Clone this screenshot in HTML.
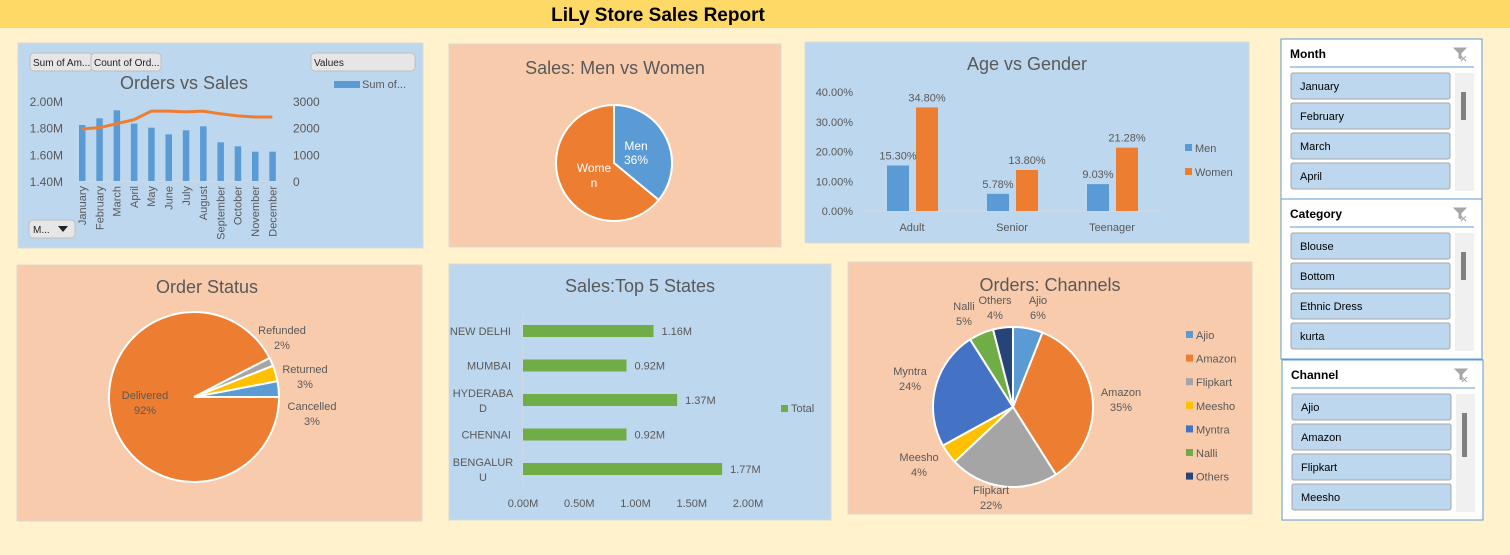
<!DOCTYPE html>
<html><head><meta charset="utf-8">
<style>
body{margin:0;width:1510px;height:550px;overflow:hidden;background:#FFF2CC;font-family:"Liberation Sans",sans-serif;}
svg text{font-family:"Liberation Sans",sans-serif;}
</style></head>
<body>
<svg id="s" width="1510" height="550" xmlns="http://www.w3.org/2000/svg">
<rect x="0" y="0" width="1510" height="550" fill="#FFF2CC"/>
<rect x="0" y="0" width="1510" height="28" fill="#FFD966"/>
<text x="658" y="21" text-anchor="middle" font-size="19" font-weight="bold" fill="#000">LiLy Store Sales Report</text>
<g id="g"></g>
</svg>
<script>
// ---- data ----
const months=["January","February","March","April","May","June","July","August","September","October","November","December"];
const salesM=[1.82,1.87,1.93,1.83,1.80,1.75,1.78,1.81,1.69,1.66,1.62,1.62];
const ordersCount=[1950,2000,2150,2300,2620,2620,2590,2620,2520,2440,2400,2400];
const genderLabels=["Men","Women"];
const genderValues=[36,64];
const ageGroups=["Adult","Senior","Teenager"];
const ageMen=[15.30,5.78,9.03];
const ageWomen=[34.80,13.80,21.28];
const statusLabels=["Cancelled","Returned","Refunded","Delivered"];
const statusValues=[3,3,1.6,92.4];
const statusPrinted=["3%","3%","2%","92%"];
const states=["NEW DELHI","MUMBAI","HYDERABAD","CHENNAI","BENGALURU"];
const stateSales=[1.16,0.92,1.37,0.92,1.77];
const channels=["Ajio","Amazon","Flipkart","Meesho","Myntra","Nalli","Others"];
const channelValues=[6,35,22,4,24,5,4];

const NS="http://www.w3.org/2000/svg";
const G=document.getElementById('g');
function el(tag,a,parent,txt){const e=document.createElementNS(NS,tag);for(const k in a)e.setAttribute(k,a[k]);if(txt!==undefined)e.textContent=txt;(parent||G).appendChild(e);return e;}
const BLUE="#5B9BD5",OR="#ED7D31",GR="#A5A5A5",YE="#FFC000",DB="#4472C4",GN="#70AD47",NV="#264478";
const TXT="#595959";

// panels
[[18,43,405,205,"#BDD7EE","panel-orders-vs-sales"],[449,44,332,203,"#F8CBAD","panel-men-vs-women"],[805,42,444,201,"#BDD7EE","panel-age-vs-gender"],
 [17,265,405,256,"#F8CBAD","panel-order-status"],[449,264,382,256,"#BDD7EE","panel-top-states"],[848,262,404,252,"#F8CBAD","panel-channels"]].forEach(p=>{
 const r=el('rect',{x:p[0],y:p[1],width:p[2],height:p[3],fill:p[4],stroke:"#D9D9D9","stroke-width":1});
 
 
});

function pie(cx,cy,r,vals,cols,start,dir,name){
 const tot=vals.reduce((a,b)=>a+b,0);let a=start;const mids=[];
 vals.forEach((v,i)=>{const da=v/tot*2*Math.PI*dir;const a2=a+da;
  const x1=cx+r*Math.cos(a),y1=cy+r*Math.sin(a),x2=cx+r*Math.cos(a2),y2=cy+r*Math.sin(a2);
  const large=Math.abs(da)>Math.PI?1:0;const sw=dir>0?1:0;
  const p=el('path',{d:`M${cx},${cy}L${x1},${y1}A${r},${r} 0 ${large} ${sw} ${x2},${y2}Z`,fill:cols[i],stroke:"#fff","stroke-width":2});
  
  
  mids.push(a+da/2);a=a2;});
 return mids;
}

// ---- Orders vs Sales ----
(function(){
 [["Sum of Am...",30,53,62],["Count of Ord...",91,53,70],["Values",311,53,104]].forEach((b,i)=>{
  const r=el('rect',{x:b[1],y:b[2],width:b[3],height:18,rx:4,fill:"#E7E6E6",stroke:"#BFBFBF"});
  
  
  const t=el('text',{x:b[1]+3,y:b[2]+13,"font-size":10,fill:"#222"},G,b[0]);
  
  
 });
 const r=el('rect',{x:29,y:220,width:46,height:18,rx:4,fill:"#E7E6E6",stroke:"#BFBFBF"});
 
 el('text',{x:33,y:233,"font-size":10,fill:"#222"},G,"M...");
 el('path',{d:"M58,226h10l-5,6z",fill:"#222"});
 const t=el('text',{x:184,y:89,"text-anchor":"middle","font-size":18,fill:TXT},G,"Orders vs Sales");
 
 el('rect',{x:334,y:81,width:26,height:7,fill:BLUE});
 el('text',{x:362,y:88,"font-size":11,fill:TXT},G,"Sum of...");
 const y0=181,y1=101,lo=1.4,hi=2.0;
 const yL=v=>y0-(v-lo)/(hi-lo)*(y0-y1);
 const yR=v=>y0-v/3000*(y0-y1);
 const xs=i=>82+i*17.3;
 [1.4,1.6,1.8,2.0].forEach(v=>el('text',{x:63,y:yL(v)+5,"text-anchor":"end","font-size":12,fill:TXT},G,v.toFixed(2)+"M"));
 [0,1000,2000,3000].forEach(v=>el('text',{x:293,y:yR(v)+5,"font-size":12,fill:TXT},G,String(v)));
 el('line',{x1:75,x2:283,y1:y0,y2:y0,stroke:"#D9D9D9"});
 salesM.forEach((v,i)=>{const b=el('rect',{x:xs(i)-3,y:yL(v),width:6.5,height:y0-yL(v),fill:BLUE});
  
  const l=el('text',{transform:`translate(${xs(i)+4},${y0+5}) rotate(-90)`,"text-anchor":"end","font-size":11,fill:TXT},G,months[i]);
  });
 const ln=el('polyline',{points:ordersCount.map((v,i)=>xs(i)+","+yR(v)).join(" "),fill:"none",stroke:OR,"stroke-width":3});
 
})();

// ---- Men vs Women ----
(function(){
 const t=el('text',{x:615,y:74,"text-anchor":"middle","font-size":18,fill:TXT},G,"Sales: Men vs Women");
 
 pie(614,163,58,genderValues,[BLUE,OR],-Math.PI/2,1,'gender');
 el('text',{x:636,y:150,"text-anchor":"middle","font-size":12,fill:"#fff"},G,"Men");
 el('text',{x:636,y:164,"text-anchor":"middle","font-size":12,fill:"#fff"},G,genderValues[0]+"%");
 el('text',{x:594,y:172,"text-anchor":"middle","font-size":12,fill:"#fff"},G,"Wome");
 el('text',{x:594,y:187,"text-anchor":"middle","font-size":12,fill:"#fff"},G,"n");
})();

// ---- Age vs Gender ----
(function(){
 const t=el('text',{x:1027,y:70,"text-anchor":"middle","font-size":18,fill:TXT},G,"Age vs Gender");
 
 const y0=211,y1=92;const y=v=>y0-v/40*(y0-y1);
 [0,10,20,30,40].forEach(v=>el('text',{x:853,y:y(v)+4,"text-anchor":"end","font-size":11,fill:TXT},G,v.toFixed(2)+"%"));
 el('line',{x1:862,x2:1160,y1:y0,y2:y0,stroke:"#D9D9D9"});
 ageGroups.forEach((g,i)=>{const cx=912+i*100;
  const m=el('rect',{x:cx-25,y:y(ageMen[i]),width:22,height:y0-y(ageMen[i]),fill:BLUE});
  
  const w=el('rect',{x:cx+4,y:y(ageWomen[i]),width:22,height:y0-y(ageWomen[i]),fill:OR});
  
  el('text',{x:cx-14,y:y(ageMen[i])-6,"text-anchor":"middle","font-size":11,fill:TXT},G,ageMen[i].toFixed(2)+"%");
  el('text',{x:cx+15,y:y(ageWomen[i])-6,"text-anchor":"middle","font-size":11,fill:TXT},G,ageWomen[i].toFixed(2)+"%");
  el('text',{x:cx,y:231,"text-anchor":"middle","font-size":11,fill:TXT},G,g);});
 [[BLUE,"Men",148],[OR,"Women",172]].forEach(l=>{el('rect',{x:1185,y:l[2]-4,width:7,height:7,fill:l[0]});
  el('text',{x:1195,y:l[2]+4,"font-size":11,fill:TXT},G,l[1]);});
})();

// ---- Order Status ----
(function(){
 const t=el('text',{x:207,y:293,"text-anchor":"middle","font-size":18,fill:TXT},G,"Order Status");
 
 pie(194,397,85,statusValues,[BLUE,YE,GR,OR],0,-1,'status');
 const pos=[[312,410],[305,373],[282,334],[145,399]];
 statusLabels.forEach((l,i)=>{el('text',{x:pos[i][0],y:pos[i][1],"text-anchor":"middle","font-size":11,fill:TXT},G,l);
  el('text',{x:pos[i][0],y:pos[i][1]+15,"text-anchor":"middle","font-size":11,fill:TXT},G,statusPrinted[i]);});
})();

// ---- Top 5 States ----
(function(){
 const t=el('text',{x:640,y:292,"text-anchor":"middle","font-size":18,fill:TXT},G,"Sales:Top 5 States");
 
 const x0=523,x1=748;const x=v=>x0+v/2*(x1-x0);
 [0,0.5,1,1.5,2].forEach(v=>el('text',{x:x(v),y:507,"text-anchor":"middle","font-size":11,fill:TXT},G,v.toFixed(2)+"M"));
 el('line',{x1:x0,x2:x0,y1:315,y2:485,stroke:"#D9D9D9"});
 states.forEach((s,i)=>{const cy=331+i*34.5;
  const b=el('rect',{x:x0,y:cy-6,width:x(stateSales[i])-x0,height:12,fill:GN});
  
  el('text',{x:x(stateSales[i])+8,y:cy+4,"font-size":11,fill:TXT},G,stateSales[i].toFixed(2)+"M");
  if(s.length>8 && s.indexOf(' ')<0){el('text',{x:483,y:cy-3,"text-anchor":"middle","font-size":11,fill:TXT},G,s.slice(0,s.length-1));
   el('text',{x:483,y:cy+12,"text-anchor":"middle","font-size":11,fill:TXT},G,s.slice(-1));}
  else el('text',{x:511,y:cy+4,"text-anchor":"end","font-size":11,fill:TXT},G,s);});
 el('rect',{x:781,y:405,width:7,height:7,fill:GN});
 el('text',{x:791,y:412,"font-size":11,fill:TXT},G,"Total");
})();

// ---- Channels ----
(function(){
 const t=el('text',{x:1050,y:291,"text-anchor":"middle","font-size":18,fill:TXT},G,"Orders: Channels");
 
 const cols=[BLUE,OR,GR,YE,DB,GN,NV];
 pie(1013,407,80,channelValues,cols,-Math.PI/2,1,'channel');
 const pos=[[1038,304],[1121,396],[991,494],[919,461],[910,375],[964,310],[995,304]];
 channels.forEach((c,i)=>{el('text',{x:pos[i][0],y:pos[i][1],"text-anchor":"middle","font-size":11,fill:TXT},G,c);
  el('text',{x:pos[i][0],y:pos[i][1]+15,"text-anchor":"middle","font-size":11,fill:TXT},G,channelValues[i]+"%");
  el('rect',{x:1186,y:331+i*23.6,width:7,height:7,fill:cols[i]});
  el('text',{x:1196,y:339+i*23.6,"font-size":11,fill:TXT},G,c);});
})();

// ---- Slicers ----
[["Month",1281,39,["January","February","March","April"]],["Category",1281,199,["Blouse","Bottom","Ethnic Dress","kurta"]],["Channel",1282,360,["Ajio","Amazon","Flipkart","Meesho"]]].forEach(s=>{
 const [t,x,y,items]=s;
 const box=el('rect',{x:x,y:y,width:201,height:160,fill:"#fff",stroke:"#5B9BD5"});
 
 el('text',{x:x+9,y:y+19,"font-size":12,"font-weight":"bold",fill:"#000"},G,t);
 const c=el('path',{d:`M${x+173},${y+9}h12l-5,5v6l-2,-1v-5z M${x+180},${y+17}l5,5 M${x+185},${y+17}l-5,5`,fill:"#A6A6A6",stroke:"#A6A6A6"});
 
 el('line',{x1:x+9,x2:x+193,y1:y+28,y2:y+28,stroke:"#5B9BD5"});
 el('rect',{x:x+174,y:y+34,width:19,height:118,fill:"#F0F0F0"});
 el('rect',{x:x+180,y:y+53,width:5,height:t==="Channel"?44:28,fill:"#808080"});
 items.forEach((it,i)=>{const b=el('rect',{x:x+10,y:y+34+i*30,width:159,height:26,rx:2,fill:"#BDD7EE",stroke:"#A6A6A6"});
  
  el('text',{x:x+19,y:y+51+i*30,"font-size":11,fill:"#000"},G,it);});
});
</script>
</body></html>
